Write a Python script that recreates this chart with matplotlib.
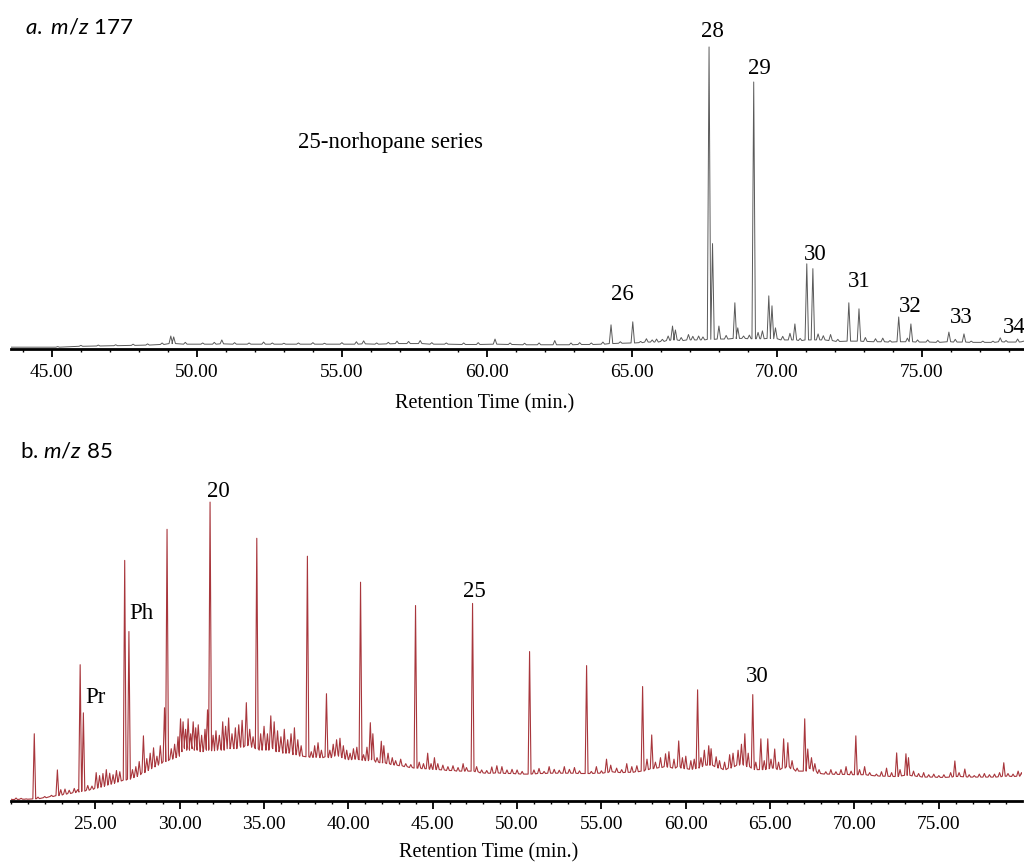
import numpy as np
import matplotlib
matplotlib.use("Agg")
import matplotlib.pyplot as plt
from matplotlib.ticker import MultipleLocator, FormatStrFormatter

# panel a (m/z 177): retention time (min), peak apex and local baseline (% of tallest peak)
rt_a = [43.6, 45.2, 46.0, 46.6, 47.2, 47.8, 48.3, 48.8, 49.1, 49.2,
        49.6, 50.2, 50.6, 50.86, 51.3, 51.8, 52.3, 52.6, 53.0, 53.5,
        54.0, 54.4, 55.0, 55.5, 55.75, 56.2, 56.6, 56.9, 57.3, 57.7,
        58.1, 58.6, 59.2, 59.7, 60.28, 60.8, 61.3, 61.8, 62.34, 62.9,
        63.2, 63.6, 64.0, 64.28, 64.6, 65.03, 65.3, 65.5, 65.7, 65.85,
        66.05, 66.25, 66.4, 66.5, 66.7, 66.95, 67.1, 67.3, 67.45, 67.66,
        67.78, 68.0, 68.25, 68.55, 68.65, 68.85, 69.05, 69.2, 69.35, 69.5,
        69.72, 69.83, 69.95, 70.2, 70.45, 70.62, 70.8, 71.03, 71.24, 71.42,
        71.6, 71.85, 72.1, 72.48, 72.83, 73.05, 73.4, 73.65, 73.9, 74.2,
        74.5, 74.62, 74.85, 75.2, 75.55, 75.93, 76.15, 76.45, 76.7, 77.1,
        77.45, 77.7, 77.9, 78.3, 78.5]
top_a = [0.6, 0.8, 1.2, 1.3, 1.4, 1.6, 1.7, 2.0, 4.3, 4.0,
         2.2, 2.0, 2.2, 3.0, 2.1, 2.0, 2.3, 2.0, 1.9, 2.0,
         2.1, 1.9, 2.1, 2.4, 2.7, 2.0, 2.2, 2.6, 2.5, 2.8,
         2.1, 2.0, 2.0, 2.1, 3.3, 2.0, 1.9, 2.0, 2.8, 2.0,
         2.1, 2.0, 2.3, 8.0, 2.4, 9.0, 2.5, 3.4, 3.0, 3.3,
         3.2, 4.3, 7.6, 6.3, 3.8, 4.8, 4.2, 4.3, 4.0, 100,
         34.9, 7.6, 4.5, 15.3, 7.0, 4.3, 4.6, 88.4, 5.5, 6.0,
         17.6, 14.3, 7.0, 4.2, 5.2, 8.3, 3.5, 28.2, 26.6, 5.0,
         4.4, 4.8, 3.2, 15.3, 13.3, 3.8, 3.4, 3.6, 2.8, 10.6,
         3.6, 8.3, 3.0, 3.0, 2.8, 5.6, 3.2, 5.0, 2.6, 2.6,
         2.6, 3.7, 2.8, 3.3, 2.6]
base_a = [0.6, 0.6, 0.9, 1.0, 1.1, 1.2, 1.3, 1.5, 1.8, 1.8,
          1.6, 1.6, 1.6, 1.7, 1.6, 1.6, 1.6, 1.6, 1.6, 1.6,
          1.6, 1.6, 1.6, 1.6, 1.7, 1.6, 1.7, 1.8, 1.8, 1.8,
          1.6, 1.6, 1.5, 1.5, 1.6, 1.5, 1.4, 1.4, 1.4, 1.4,
          1.5, 1.5, 1.6, 1.8, 1.9, 2.0, 2.1, 2.3, 2.3, 2.3,
          2.5, 2.8, 3.0, 3.0, 2.8, 3.0, 3.0, 3.0, 3.0, 3.2,
          3.2, 3.3, 3.3, 3.5, 3.5, 3.5, 3.4, 3.4, 3.4, 3.4,
          3.5, 3.5, 3.4, 3.0, 3.0, 3.0, 2.8, 3.0, 3.0, 3.0,
          3.0, 2.8, 2.5, 2.6, 2.6, 2.5, 2.4, 2.4, 2.3, 2.4,
          2.4, 2.4, 2.3, 2.3, 2.2, 2.4, 2.3, 2.3, 2.2, 2.2,
          2.2, 2.4, 2.3, 2.3, 2.4]

labels_a = ["26", "28", "29", "30", "31", "32", "33", "34"]
label_rt_a = [64.66, 67.76, 69.41, 71.31, 72.83, 74.59, 76.34, 78.17]
label_y_a = [16.2, 103.3, 91.1, 29.5, 20.5, 12.3, 8.6, 5.3]
ticks_a = [45, 50, 55, 60, 65, 70, 75]

# panel b (m/z 85)
rt_b = [20.0, 20.3, 20.6, 20.9, 21.38, 21.6, 22.0, 22.4, 22.75, 22.95,
        23.2, 23.45, 23.75, 23.95, 24.1, 24.29, 24.55, 24.8, 25.05, 25.25,
        25.45, 25.65, 25.85, 26.05, 26.25, 26.45, 26.74, 26.99, 27.2, 27.4,
        27.6, 27.85, 28.05, 28.25, 28.45, 28.65, 28.85, 29.1, 29.25, 29.5,
        29.7, 29.9, 30.05, 30.2, 30.35, 30.5, 30.65, 30.8, 30.95, 31.1,
        31.3, 31.5, 31.65, 31.8, 31.98, 32.15, 32.35, 32.55, 32.72, 32.9,
        33.1, 33.3, 33.5, 33.7, 33.95, 34.15, 34.35, 34.57, 34.8, 35.0,
        35.2, 35.4, 35.6, 35.8, 36.0, 36.2, 36.4, 36.6, 36.8, 37.0,
        37.2, 37.57, 37.8, 38.0, 38.2, 38.4, 38.7, 38.9, 39.1, 39.3,
        39.5, 39.7, 39.9, 40.1, 40.3, 40.5, 40.72, 40.9, 41.1, 41.3,
        41.45, 41.7, 41.95, 42.1, 42.35, 42.6, 42.8, 43.1, 43.4, 43.7,
        43.98, 44.2, 44.45, 44.7, 44.9, 45.1, 45.3, 45.6, 45.9, 46.2,
        46.5, 46.8, 47.0, 47.36, 47.6, 47.9, 48.2, 48.5, 48.8, 49.1,
        49.4, 49.7, 50.0, 50.3, 50.74, 51.0, 51.3, 51.6, 51.9, 52.2,
        52.5, 52.8, 53.1, 53.4, 53.7, 54.12, 54.4, 54.7, 55.0, 55.3,
        55.55, 55.9, 56.2, 56.5, 56.8, 57.1, 57.44, 57.7, 57.98, 58.2,
        58.5, 58.8, 59.0, 59.3, 59.58, 59.8, 60.0, 60.3, 60.5, 60.7,
        60.9, 61.1, 61.36, 61.5, 61.8, 62.0, 62.3, 62.6, 62.8, 63.1,
        63.3, 63.5, 63.7, 63.97, 64.15, 64.45, 64.65, 64.86, 65.05, 65.27,
        65.5, 65.8, 66.05, 66.3, 66.6, 67.05, 67.23, 67.45, 67.65, 67.9,
        68.3, 68.6, 68.9, 69.2, 69.5, 69.8, 70.08, 70.3, 70.6, 70.9,
        71.3, 71.6, 71.9, 72.2, 72.5, 72.7, 73.05, 73.2, 73.5, 73.8,
        74.1, 74.4, 74.7, 75.0, 75.3, 75.7, 75.95, 76.2, 76.54, 76.8,
        77.1, 77.4, 77.7, 78.0, 78.3, 78.6, 78.85, 79.1, 79.4, 79.7,
        79.9]
top_b = [0.6, 1.0, 0.9, 0.7, 22.5, 1.3, 1.5, 1.9, 10.4, 3.8,
         4.0, 3.6, 4.2, 3.8, 45.6, 29.5, 5.2, 5.0, 9.5, 8.5,
         9.2, 10.5, 9.3, 8.8, 10.2, 9.8, 80.5, 56.7, 10.5, 11.5,
         13.2, 21.8, 14.2, 16.0, 17.8, 15.0, 18.5, 31.2, 90.9, 17.5,
         19.0, 21.5, 27.5, 26.5, 24.0, 27.5, 22.5, 26.5, 24.5, 25.5,
         22.0, 24.0, 30.5, 100, 22.0, 23.5, 22.0, 26.5, 25.0, 27.8,
         22.5, 24.5, 25.5, 27.0, 32.9, 24.0, 21.5, 87.9, 22.5, 25.0,
         22.5, 28.5, 26.5, 23.5, 21.5, 24.0, 20.5, 22.5, 24.5, 20.5,
         18.5, 81.9, 16.5, 18.5, 19.5, 17.0, 35.9, 17.0, 19.0, 20.5,
         21.0, 18.5, 17.0, 16.0, 17.5, 18.0, 73.2, 15.5, 18.0, 26.2,
         22.5, 14.5, 20.0, 18.5, 16.0, 14.5, 13.5, 14.0, 12.5, 12.2,
         65.4, 13.0, 12.5, 16.0, 12.5, 14.5, 12.5, 12.0, 11.5, 11.8,
         11.2, 12.5, 11.2, 66.1, 11.5, 10.4, 10.2, 11.4, 11.8, 11.5,
         10.4, 10.6, 10.4, 9.9, 50.0, 10.4, 10.9, 9.9, 11.5, 10.6,
         10.3, 11.5, 10.6, 11.2, 10.1, 45.3, 9.9, 11.5, 10.1, 14.0,
         12.0, 11.0, 10.5, 12.5, 11.5, 11.8, 38.3, 14.0, 22.1, 13.0,
         14.5, 15.8, 16.5, 14.0, 20.1, 14.5, 15.0, 13.5, 14.0, 37.2,
         14.5, 17.0, 18.5, 17.5, 14.8, 13.5, 13.0, 15.5, 16.0, 17.0,
         19.0, 22.5, 16.0, 35.6, 13.0, 20.8, 13.5, 20.8, 14.0, 17.4,
         13.0, 20.8, 19.5, 13.5, 11.0, 27.5, 17.4, 14.5, 12.5, 10.5,
         9.8, 10.5, 9.8, 10.5, 11.5, 10.0, 21.8, 10.5, 11.5, 9.5,
         9.0, 9.8, 11.0, 9.5, 16.1, 10.5, 15.8, 14.5, 10.0, 9.2,
         9.5, 8.8, 9.0, 8.5, 8.8, 9.5, 13.4, 9.5, 10.7, 8.8,
         8.5, 9.0, 9.2, 8.8, 9.0, 9.5, 12.8, 9.2, 9.0, 10.0,
         9.5]
base_b = [0.5, 0.5, 0.6, 0.6, 0.7, 0.8, 1.1, 1.5, 1.8, 2.0,
          2.3, 2.5, 2.8, 3.0, 3.2, 3.3, 3.6, 3.9, 4.3, 4.6,
          4.9, 5.3, 5.6, 5.9, 6.3, 6.7, 7.0, 7.3, 7.8, 8.2,
          8.8, 9.5, 10.2, 10.8, 11.4, 12.0, 12.6, 13.2, 13.5, 14.0,
          14.5, 15.0, 16.5, 17.5, 18.0, 17.0, 17.5, 18.5, 17.0, 18.0,
          16.5, 17.0, 17.5, 17.0, 16.8, 17.0, 17.5, 17.0, 18.0, 17.5,
          18.0, 17.5, 18.5, 18.0, 18.5, 19.0, 18.0, 17.5, 17.0, 18.5,
          17.0, 18.0, 17.5, 16.5, 17.0, 16.0, 16.0, 16.5, 15.5, 15.5,
          15.0, 14.8, 14.6, 14.6, 15.0, 14.5, 14.8, 14.5, 15.0, 15.5,
          15.0, 14.5, 14.0, 13.8, 14.0, 14.0, 13.8, 13.6, 13.5, 14.0,
          13.8, 13.0, 12.8, 12.8, 12.5, 12.2, 12.0, 11.8, 11.5, 11.2,
          11.0, 11.0, 10.8, 10.8, 10.6, 10.6, 10.5, 10.4, 10.2, 10.2,
          10.0, 10.0, 10.0, 10.0, 9.8, 9.4, 9.3, 9.3, 9.4, 9.3,
          9.2, 9.2, 9.1, 9.0, 9.0, 9.1, 9.2, 9.2, 9.3, 9.3,
          9.3, 9.3, 9.3, 9.3, 9.2, 9.2, 9.2, 9.3, 9.3, 9.5,
          9.8, 9.6, 9.5, 9.6, 9.6, 9.8, 10.0, 10.5, 10.8, 11.0,
          11.2, 11.5, 11.3, 11.0, 11.5, 11.0, 10.8, 10.6, 10.8, 11.0,
          11.5, 12.0, 12.0, 12.0, 11.5, 11.0, 10.5, 11.0, 11.5, 12.0,
          12.5, 12.0, 11.5, 11.0, 10.5, 10.5, 10.5, 10.8, 11.0, 11.0,
          10.5, 11.0, 11.5, 10.8, 10.0, 10.0, 11.0, 10.8, 10.0, 9.2,
          9.0, 9.0, 8.9, 8.9, 8.9, 8.8, 8.8, 8.8, 8.8, 8.6,
          8.4, 8.3, 8.3, 8.2, 8.2, 8.4, 8.6, 8.6, 8.4, 8.2,
          8.0, 8.0, 8.0, 7.9, 7.9, 8.0, 8.2, 8.2, 8.1, 8.0,
          8.0, 8.0, 8.0, 8.0, 8.0, 8.1, 8.3, 8.3, 8.2, 8.3,
          8.4]

labels_b = ["Pr", "Ph", "20", "25", "30"]
label_rt_b = [25.0, 27.73, 32.3, 47.48, 64.26]
label_y_b = [32.8, 60.9, 101.7, 68.2, 39.8]
ticks_b = [25, 30, 35, 40, 45, 50, 55, 60, 65, 70, 75]

plt.rcParams["font.family"] = ["Liberation Serif", "DejaVu Serif"]
plt.rcParams["mathtext.fontset"] = "custom"
plt.rcParams["mathtext.it"] = "Lato:italic"
plt.rcParams["mathtext.rm"] = "Lato"


def trace(rt, top, base, hw):
    # each peak drawn as foot - apex - foot
    rt = np.asarray(rt, dtype=float)
    xs = np.column_stack([rt - hw, rt, rt + hw]).ravel()
    ys = np.column_stack([base, top, base]).ravel()
    return xs, ys


def style_axis(ax, xlim, ylim, ticks):
    ax.set_xlim(*xlim)
    ax.set_ylim(*ylim)
    for s in ("left", "top", "right"):
        ax.spines[s].set_visible(False)
    ax.spines["bottom"].set_linewidth(2)
    ax.set_yticks([])
    ax.set_xticks(ticks)
    ax.xaxis.set_minor_locator(MultipleLocator(1))
    ax.xaxis.set_major_formatter(FormatStrFormatter("%.2f"))
    ax.tick_params(axis="x", which="major", direction="out", length=5.5,
                   width=1.3, pad=5, labelsize=14)
    ax.tick_params(axis="x", which="minor", direction="out", length=2.5, width=1.0)
    ax.patch.set_alpha(0)


W, H = 1024, 864
fig = plt.figure(figsize=(W / 100, H / 100), dpi=100)

# top panel
ax1 = fig.add_axes([11 / W, (H - 349) / H, 1013 / W, 309 / H])
x, y = trace(rt_a, top_a, base_a, 0.06)
ax1.plot(x, y, color="#5a5a5a", lw=0.7)
style_axis(ax1, (43.59, 78.52), (0, 102.3), ticks_a)
for lab, t, v in zip(labels_a, label_rt_a, label_y_a):
    ax1.text(t, v, lab, ha="center", va="baseline", fontsize=16.5)
ax1.text(56.69, 66.6, "25-norhopane series", ha="center", va="baseline", fontsize=16.5)

# bottom panel
ax2 = fig.add_axes([11 / W, (H - 801) / H, 1011 / W, 321 / H])
x, y = trace(rt_b, top_b, base_b, 0.085)
ax2.plot(x, y, color="#a8363c", lw=0.8)
style_axis(ax2, (20.0, 79.93), (0, 107.4), ticks_b)
for lab, t, v in zip(labels_b, label_rt_b, label_y_b):
    ax2.text(t, v, lab, ha="center", va="baseline", fontsize=16.5)

fig.text(485 / W, 1 - 408 / H, "Retention Time (min.)", ha="center", va="baseline", fontsize=14.5)
fig.text(489 / W, 1 - 857 / H, "Retention Time (min.)", ha="center", va="baseline", fontsize=14.5)
fig.text(25 / W, 1 - 33 / H, r"$a.$ $m/z$ 177", family="Lato", fontsize=16, va="baseline")
fig.text(20 / W, 1 - 458 / H, r"b. $m/z$ 85", family="Lato", fontsize=16, va="baseline")

fig.savefig("out.png", dpi=100)
